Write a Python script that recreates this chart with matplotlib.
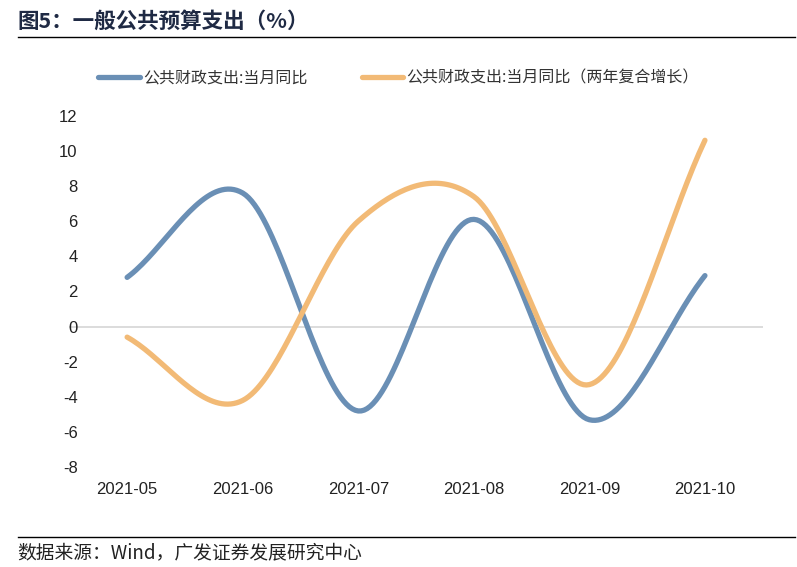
import numpy as np
import matplotlib
matplotlib.use("Agg")
import matplotlib.pyplot as plt
from matplotlib.lines import Line2D

plt.rcParams['font.family'] = ['Noto Sans CJK SC', 'DejaVu Sans']
plt.rcParams['axes.unicode_minus'] = False

# Data
months = ["2021-05", "2021-06", "2021-07", "2021-08", "2021-09", "2021-10"]
yoy = [2.8, 7.6, -4.8, 6.1, -5.3, 2.9]
yoy_2y = [-0.6, -4.2, 6.0, 7.4, -3.3, 10.6]
title = "图5：一般公共预算支出（%）"
source = "数据来源：Wind，广发证券发展研究中心"
label_1 = "公共财政支出:当月同比"
label_2 = "公共财政支出:当月同比（两年复合增长）"


def smooth(x, y, n=40, t=0.5):
    # Excel-like smoothed line (Catmull-Rom through the data points)
    x = np.asarray(x, float)
    y = np.asarray(y, float)
    px = np.concatenate([[2 * x[0] - x[1]], x, [2 * x[-1] - x[-2]]])
    py = np.concatenate([[2 * y[0] - y[1]], y, [2 * y[-1] - y[-2]]])
    xs, ys = [], []
    s = np.linspace(0, 1, n)
    for i in range(1, len(px) - 2):
        for p, out in ((px, xs), (py, ys)):
            p0, p1, p2, p3 = p[i - 1], p[i], p[i + 1], p[i + 2]
            m1 = t * (p2 - p0)
            m2 = t * (p3 - p1)
            h00 = 2 * s**3 - 3 * s**2 + 1
            h10 = s**3 - 2 * s**2 + s
            h01 = -2 * s**3 + 3 * s**2
            h11 = s**3 - s**2
            out.extend(h00 * p1 + h10 * m1 + h01 * p2 + h11 * m2)
    return np.array(xs), np.array(ys)


blue = '#6A8FB5'
orange = '#F2BA76'

fig = plt.figure(figsize=(7.97, 5.67), dpi=100)
ax = fig.add_axes([0.087, 0.176, 0.87, 0.62])

x = np.arange(len(months))
sx, sy = smooth(x, yoy)
ax.plot(sx, sy, color=blue, lw=3.8, solid_capstyle='round', zorder=3)
sx, sy = smooth(x, yoy_2y)
ax.plot(sx, sy, color=orange, lw=3.8, solid_capstyle='round', zorder=3)

ax.axhline(0, color='#D9D9D9', lw=1.3, zorder=1)
ax.set_xlim(-0.5, len(months) - 0.5)
ax.set_ylim(-8, 12)
ax.set_yticks(np.arange(-8, 13, 2))
ax.set_xticks(x)
ax.set_xticklabels(months)
for s in ax.spines.values():
    s.set_visible(False)
ax.tick_params(length=0, labelsize=12, colors='#222222')
ax.tick_params(axis='y', pad=-6)
ax.tick_params(axis='x', pad=11)
for lab in ax.get_xticklabels() + ax.get_yticklabels():
    lab.set_family(['Liberation Sans', 'DejaVu Sans'])

handles = [Line2D([], [], color=blue, lw=3.8, solid_capstyle='round'),
           Line2D([], [], color=orange, lw=3.8, solid_capstyle='round')]
fig.legend(handles, [label_1, label_2], loc='center', bbox_to_anchor=(0.5, 0.862),
           ncol=2, frameon=False, fontsize=11.5, handlelength=2.6, handletextpad=0.2,
           columnspacing=3.4, labelcolor='#333333')

fig.text(0.022, 0.962, title, fontsize=15.5, fontweight='bold', color='#1F2A44',
         va='center', ha='left')
fig.add_artist(Line2D([0.022, 0.998], [0.934, 0.934], color='black', lw=1.0))
fig.add_artist(Line2D([0.022, 0.998], [0.053, 0.053], color='black', lw=1.0))
fig.text(0.022, 0.025, source, fontsize=13.5, color='#222222', va='center', ha='left')

fig.savefig('out.png', dpi=100)
